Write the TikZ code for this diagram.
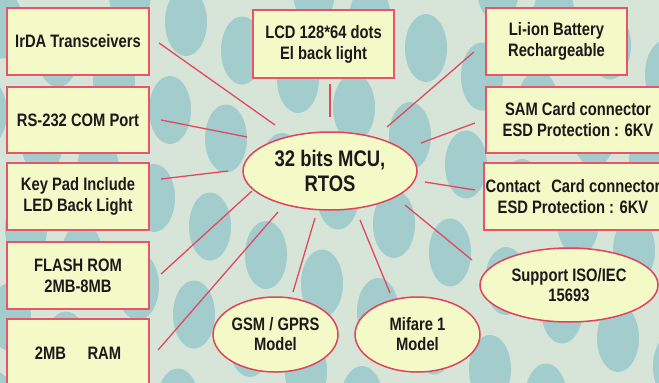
\documentclass[tikz,border=0pt]{standalone}
\usepackage{fontspec}
\setmainfont{Liberation Sans}[FakeStretch=0.82]
\usetikzlibrary{shapes.geometric,calc}
\definecolor{bgcol}{RGB}{214,229,216}
\definecolor{dotcol}{RGB}{163,204,205}
\definecolor{boxfill}{RGB}{244,249,200}
\definecolor{boxline}{RGB}{232,84,106}
\definecolor{elline}{RGB}{226,66,90}
\definecolor{linkcol}{RGB}{226,72,96}
\definecolor{txt}{RGB}{26,26,26}
\tikzset{
  boxnode/.style={draw=boxline, line width=2.2pt, fill=boxfill, rectangle,
    minimum width=142pt, minimum height=67pt, inner sep=0pt, align=center,
    text=txt, font=\fontsize{18}{21}\selectfont\bfseries},
  ellnode/.style={draw=elline, line width=1.5pt, fill=boxfill, ellipse,
    inner sep=0pt, align=center, text=txt,
    font=\fontsize{18}{20}\selectfont\bfseries},
  link/.style={draw=linkcol, line width=1.3pt},
  dot/.style={fill=dotcol}
}
\begin{document}
\begin{tikzpicture}[x=1pt,y=-1pt]
\useasboundingbox (0,0) rectangle (659,383);
\clip (0,0) rectangle (659,383);
\fill[bgcol] (0,0) rectangle (659,383);
\foreach \j in {-4,...,6} {
  \foreach \i in {-6,...,12} {
    \fill[dot] ({186+56*\i-16*\j},{22+28.5*\i+88*\j}) ellipse [x radius=21, y radius=34];
  }
}
% left column
\node[boxnode] (irda) at (78,41.5) {IrDA Transceivers};
\node[boxnode, minimum height=66pt] (rs) at (78,120) {RS-232 COM Port};
\node[boxnode] (key) at (78,196.5) {Key Pad Include\\LED Back Light};
\node[boxnode] (flash) at (78,275.5) {FLASH ROM\\2MB-8MB};
\node[boxnode, minimum height=69pt] (ram) at (78,353.5) {2MB\hspace{1.2em}RAM};
% top middle
\node[boxnode, minimum width=141pt, minimum height=68pt] (lcd) at (323.5,44) {LCD 128*64 dots\\El back light};
% right column
\node[boxnode, minimum width=141pt] (liion) at (556.5,41.5) {Li-ion Battery\\Rechargeable};
\node[boxnode, minimum width=184pt, minimum height=66pt] (sam) at (578,120) {SAM Card connector\\ESD Protection : 6KV};
\node[boxnode, minimum width=178pt] (contact) at (573,196.5) {Contact\hspace{0.6em}Card connector\\ESD Protection : 6KV};
% ellipses
\node[ellnode, minimum width=174pt, minimum height=78pt,
  font=\fontsize{22.5}{25}\selectfont\bfseries] (mcu) at (330,171) {32 bits MCU,\\RTOS};
\node[ellnode, minimum width=125pt, minimum height=75pt] (gsm) at (275.5,334.5) {GSM / GPRS\\Model};
\node[ellnode, minimum width=125pt, minimum height=75pt] (mifare) at (417.5,334.5) {Mifare 1\\Model};
\node[ellnode, minimum width=178pt, minimum height=74pt] (support) at (569,285) {Support ISO/IEC\\15693};
% connectors
\draw[link] ($(irda.east)+(9,1.5)$) -- ($(mcu.center)+(-55,-46)$);
\draw[link] ($(rs.east)+(11,0)$) -- ($(mcu.center)+(-83,-34)$);
\draw[link] ($(key.east)+(11,-17.5)$) -- ($(mcu.center)+(-102,0)$);
\draw[link] ($(flash.east)+(11,-1.5)$) -- ($(mcu.center)+(-78,20)$);
\draw[link] ($(ram.east)+(8,-3.5)$) -- ($(mcu.center)+(-52,41)$);
\draw[link] ($(gsm.center)+(17.5,-42.5)$) -- ($(mcu.center)+(-15,47)$);
\draw[link] ($(lcd.south)+(6.5,5)$) -- ($(mcu.center)+(0,-54)$);
\draw[link] ($(liion.west)+(-11,10.5)$) -- ($(mcu.center)+(57,-44)$);
\draw[link] ($(sam.west)+(-10,3)$) -- ($(mcu.center)+(91,-28)$);
\draw[link] ($(contact.west)+(-8,-6.5)$) -- ($(mcu.center)+(95,11)$);
\draw[link] ($(mifare.center)+(-27.5,-41.5)$) -- ($(mcu.center)+(30,49)$);
\draw[link] ($(support.center)+(-97,-25)$) -- ($(mcu.center)+(75,34)$);
\end{tikzpicture}
\end{document}
